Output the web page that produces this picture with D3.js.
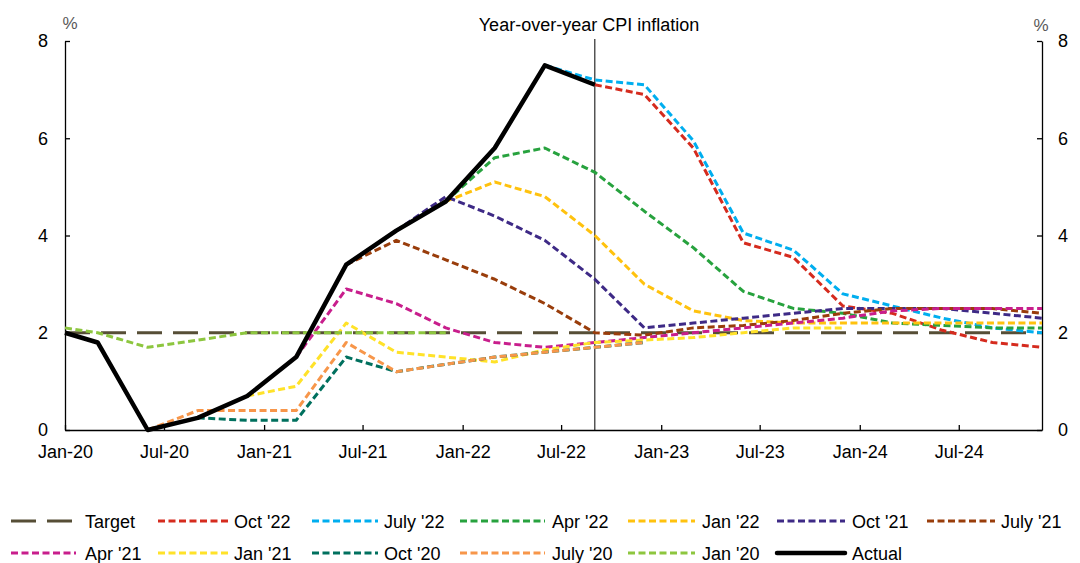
<!DOCTYPE html>
<html>
<head>
<meta charset="utf-8">
<script src="https://cdn.jsdelivr.net/npm/d3@7"></script>
<style>
  body { margin: 0; background: #fff; }
  svg text { font-family: "Liberation Sans", Arial, sans-serif; }
</style>
</head>
<body>
<div id="vizContainer"></div>
<script>
// quarterly observation dates (first point is Jan-20)
const dates = ["2020-01-01","2020-03-01","2020-06-01","2020-09-01","2020-12-01",
  "2021-03-01","2021-06-01","2021-09-01","2021-12-01",
  "2022-03-01","2022-06-01","2022-09-01","2022-12-01",
  "2023-03-01","2023-06-01","2023-09-01","2023-12-01",
  "2024-03-01","2024-06-01","2024-09-01","2024-12-01"];

const _ = null;
const actual   = [2.0,1.8,0.0,0.25,0.7,1.5,3.4,4.1,4.7,5.8,7.5,7.1,_,_,_,_,_,_,_,_,_];
const target   = [2.0,2.0,2.0,2.0,2.0,2.0,2.0,2.0,2.0,2.0,2.0,2.0,2.0,2.0,2.0,2.0,2.0,2.0,2.0,2.0,2.0];
const oct22    = [_,_,_,_,_,_,_,_,_,_,_,7.1,6.9,5.8,3.85,3.55,2.55,2.4,2.05,1.8,1.7];
const jul22    = [_,_,_,_,_,_,_,_,_,_,7.5,7.2,7.1,5.95,4.05,3.7,2.8,2.55,2.3,2.1,2.0];
const apr22    = [_,_,_,_,_,_,_,_,4.7,5.6,5.8,5.3,4.5,3.75,2.85,2.5,2.4,2.2,2.15,2.1,2.1];
const jan22    = [_,_,_,_,_,_,_,_,4.7,5.1,4.8,4.0,3.0,2.45,2.25,2.2,2.2,2.2,2.2,2.2,2.2];
const oct21    = [_,_,_,_,_,_,_,4.1,4.8,4.4,3.9,3.1,2.1,2.2,2.3,2.4,2.5,2.5,2.5,2.4,2.3];
const jul21    = [_,_,_,_,_,_,3.4,3.9,3.5,3.1,2.6,2.0,1.95,2.1,2.15,2.25,2.4,2.5,2.5,2.5,2.4];
const apr21    = [_,_,_,_,_,1.5,2.9,2.6,2.1,1.8,1.7,1.8,1.9,2.0,2.1,2.2,2.3,2.45,2.5,2.5,2.5];
const jan21    = [_,_,_,_,0.7,0.9,2.2,1.6,1.5,1.4,1.65,1.8,1.85,1.9,2.0,2.1,2.1,_,_,_,_];
const oct20    = [_,_,_,0.25,0.2,0.2,1.5,1.2,1.35,1.5,1.6,1.7,1.8,_,_,_,_,_,_,_,_];
const jul20    = [_,_,0.0,0.4,0.4,0.4,1.8,1.2,1.35,1.5,1.6,1.7,1.8,_,_,_,_,_,_,_,_];
const jan20    = [2.1,2.0,1.7,1.85,2.0,2.0,2.0,2.0,2.0,_,_,_,_,_,_,_,_,_,_,_,_];

const yTicks = [0, 2, 4, 6, 8];
const xTicks = ["2020-01-01","2020-07-01","2021-01-01","2021-07-01","2022-01-01",
  "2022-07-01","2023-01-01","2023-07-01","2024-01-01","2024-07-01"];
const cutoff = "2022-09-01";

// series in legend order (later ones drawn on top)
const series = [
  {name: "Target",   values: target, color: "#564E36", kind: "target"},
  {name: "Oct '22",  values: oct22,  color: "#D52B1E"},
  {name: "July '22", values: jul22,  color: "#00AEEF"},
  {name: "Apr '22",  values: apr22,  color: "#27A23E"},
  {name: "Jan '22",  values: jan22,  color: "#FFC20E"},
  {name: "Oct '21",  values: oct21,  color: "#3E2A86"},
  {name: "July '21", values: jul21,  color: "#993D0B"},
  {name: "Apr '21",  values: apr21,  color: "#C81E8C"},
  {name: "Jan '21",  values: jan21,  color: "#FFE229"},
  {name: "Oct '20",  values: oct20,  color: "#00705E"},
  {name: "July '20", values: jul20,  color: "#F7964A"},
  {name: "Jan '20",  values: jan20,  color: "#8DC63F"},
  {name: "Actual",   values: actual, color: "#000000", kind: "actual"}
];

const width = 1080, height = 563;
const parse = d3.utcParse("%Y-%m-%d");

const svg = d3.select("#vizContainer").append("svg")
  .attr("width", width).attr("height", height);

const x = d3.scaleUtc()
  .domain([parse("2020-01-01"), parse("2024-12-01")])
  .range([65, 1042]);
const y = d3.scaleLinear().domain([0, 8]).range([430, 41]);

function styleLine(sel, d) {
  if (d.kind === "actual") {
    sel.attr("stroke-width", 4.5).attr("stroke-dasharray", null);
  } else if (d.kind === "target") {
    sel.attr("stroke-width", 3).attr("stroke-dasharray", "25,11");
  } else {
    sel.attr("stroke-width", 3).attr("stroke-dasharray", "7,3.5");
  }
  sel.attr("stroke", d.color).attr("fill", "none")
    .attr("stroke-linejoin", "round");
}

// axes
const fontSize = "18px";
const yl = svg.append("g").attr("transform", "translate(65,0)")
  .call(d3.axisLeft(y).tickValues(yTicks).tickSizeInner(-5).tickSizeOuter(0).tickPadding(17));
const yr = svg.append("g").attr("transform", "translate(1042,0)")
  .call(d3.axisRight(y).tickValues(yTicks).tickSizeInner(-5).tickSizeOuter(0).tickPadding(16));
const xb = svg.append("g").attr("transform", "translate(0,430)")
  .call(d3.axisBottom(x).tickValues(xTicks.map(parse))
    .tickFormat(d3.utcFormat("%b-%y")).tickSizeInner(-5).tickSizeOuter(0).tickPadding(15));
[yl, yr, xb].forEach(g => {
  g.attr("font-family", null).attr("font-size", null);
  g.selectAll("text").style("font-size", fontSize).attr("fill", "#000");
  g.selectAll("line").attr("stroke", "#000").attr("stroke-width", 1.3);
  g.select(".domain").attr("stroke", "#000").attr("stroke-width", 1.3);
});

// vertical marker at last actual
svg.append("line")
  .attr("x1", x(parse(cutoff))).attr("x2", x(parse(cutoff)))
  .attr("y1", 39).attr("y2", y(0))
  .attr("stroke", "#000").attr("stroke-width", 1);

// lines
const line = d3.line()
  .defined(d => d.v != null)
  .x(d => x(d.date))
  .y(d => y(d.v));

series.forEach(s => {
  const pts = dates.map((dt, i) => ({date: parse(dt), v: s.values[i]}));
  svg.append("path").datum(pts).attr("d", line).call(styleLine, s);
});

// titles
svg.append("text").attr("x", 589).attr("y", 31).attr("text-anchor", "middle")
  .style("font-size", fontSize).text("Year-over-year CPI inflation");
svg.append("text").attr("x", 70).attr("y", 29).attr("text-anchor", "middle")
  .style("font-size", "17px").attr("fill", "#595959").text("%");
svg.append("text").attr("x", 1041).attr("y", 31).attr("text-anchor", "middle")
  .style("font-size", "17px").attr("fill", "#595959").text("%");

// legend: 7 columns, 2 rows
const colStart = [11, 158, 312, 460, 628, 777, 927];
const colEnd   = [76, 228, 378, 545, 695, 845, 995];
const colText  = [85, 234, 384, 552, 702, 852, 1001];
const rowY = [521, 553];

series.forEach((s, i) => {
  const col = i % 7, row = Math.floor(i / 7);
  const ly = rowY[row];
  const end = s.kind === "target" ? 72 : colEnd[col];
  svg.append("line")
    .attr("x1", colStart[col]).attr("x2", end)
    .attr("y1", ly).attr("y2", ly)
    .call(styleLine, s)
    .attr("stroke-linecap", s.kind === "actual" ? "round" : "butt");
  svg.append("text").attr("x", colText[col]).attr("y", ly + 6.5)
    .style("font-size", fontSize).text(s.name);
});
</script>
</body>
</html>
